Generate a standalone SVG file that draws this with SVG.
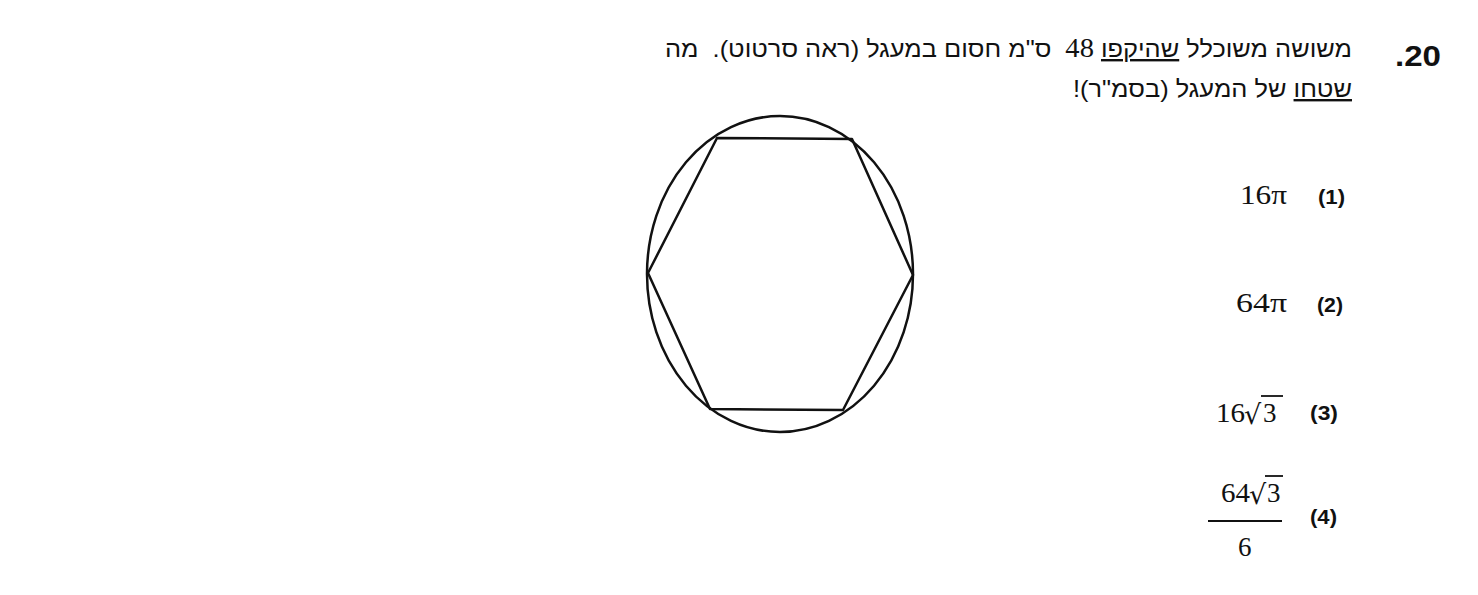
<svg xmlns="http://www.w3.org/2000/svg" width="1478" height="595" viewBox="0 0 1478 595">
<style>
.heb{font-family:"Liberation Sans","DejaVu Sans",sans-serif;font-size:24px;fill:#111;direction:rtl;white-space:pre}
.num{font-family:"Liberation Serif","DejaVu Serif",serif;font-size:27px;fill:#111}
.rad{font-family:"DejaVu Serif","Liberation Serif",serif;font-size:27px;fill:#111}
.lab{font-family:"Liberation Sans","DejaVu Sans",sans-serif;font-size:21px;font-weight:bold;fill:#111}
.shape{fill:none;stroke:#111;stroke-width:2.5;stroke-linejoin:round}
.ln{stroke:#111;stroke-width:1.8}
</style>
<rect width="1478" height="595" fill="#ffffff"/>
<g id="question">
<text x="1395" y="66" font-family="Liberation Sans, sans-serif" font-size="30" font-weight="bold" fill="#111" direction="ltr" textLength="46" lengthAdjust="spacingAndGlyphs">.20</text>
<text class="heb" x="1352" y="57" text-anchor="start" textLength="687" lengthAdjust="spacingAndGlyphs">משושה משוכלל <tspan text-decoration="underline">שהיקפו</tspan> <tspan font-family="Liberation Serif, serif" font-size="27">48</tspan>  ס"מ חסום במעגל (ראה סרטוט).  מה</text>
<text class="heb" x="1352" y="97" text-anchor="start" textLength="279" lengthAdjust="spacingAndGlyphs"><tspan text-decoration="underline">שטחו</tspan> של המעגל (בסמ"ר)!</text>
</g>
<g id="figure">
<ellipse class="shape" cx="780" cy="274" rx="133" ry="158"/>
<polygon class="shape" points="717,138 852,139 913,275 843,410 710,409 648,273"/>
</g>
<g id="answer1">
<text class="num" x="1240" y="204" textLength="47" lengthAdjust="spacingAndGlyphs">16π</text>
<text class="lab" x="1318" y="204" textLength="27" lengthAdjust="spacingAndGlyphs">(1)</text>
</g>
<g id="answer2">
<text class="num" x="1236" y="312" textLength="51" lengthAdjust="spacingAndGlyphs">64π</text>
<text class="lab" x="1317" y="312" textLength="26" lengthAdjust="spacingAndGlyphs">(2)</text>
</g>
<g id="answer3">
<text class="num" x="1216" y="422" textLength="29" lengthAdjust="spacingAndGlyphs">16</text>
<text class="rad" x="1244" y="424">√</text>
<text class="num" x="1263" y="422">3</text>
<line class="ln" x1="1261" y1="396" x2="1283" y2="396"/>
<text class="lab" x="1310" y="420" textLength="28" lengthAdjust="spacingAndGlyphs">(3)</text>
</g>
<g id="answer4">
<text class="num" x="1221" y="502" textLength="29" lengthAdjust="spacingAndGlyphs">64</text>
<text class="rad" x="1249" y="504">√</text>
<text class="num" x="1267" y="502">3</text>
<line class="ln" x1="1265" y1="476" x2="1283" y2="476"/>
<line class="ln" x1="1208" y1="521" x2="1282" y2="521"/>
<text class="num" x="1238" y="556">6</text>
<text class="lab" x="1310" y="524" textLength="27" lengthAdjust="spacingAndGlyphs">(4)</text>
</g>
</svg>
